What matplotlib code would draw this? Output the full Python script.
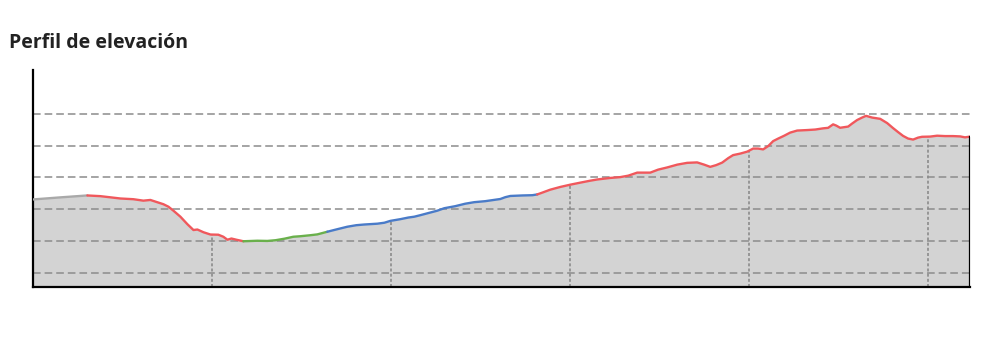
import numpy as np
import matplotlib
matplotlib.use("Agg")
import matplotlib.pyplot as plt

# distance along the route (km) and elevation (m)
dist_km = [0.00, 1.54, 3.04, 3.77, 4.50, 4.89, 5.61, 6.17, 6.56, 7.29, 7.57, 7.85,
           8.24, 8.63, 8.97, 9.19, 9.53, 9.92, 10.36, 10.64, 10.87, 11.09, 11.37, 11.76,
           12.54, 13.10, 13.55, 14.05, 14.55, 14.94, 15.50, 15.89, 16.45, 17.01, 17.57, 18.07,
           18.52, 19.25, 19.64, 19.97, 20.53, 20.98, 21.31, 21.65, 22.21, 22.60, 22.99, 23.60,
           24.16, 24.66, 25.28, 26.12, 26.40, 26.68, 27.35, 27.91, 28.18, 28.41, 28.91, 29.47,
           30.03, 30.59, 31.15, 31.54, 32.26, 32.82, 33.27, 33.77, 34.50, 34.94, 35.45, 36.01,
           36.56, 37.12, 37.51, 37.85, 38.18, 38.52, 38.86, 39.13, 39.53, 39.92, 40.25, 40.53,
           40.81, 41.09, 41.37, 41.65, 41.98, 42.32, 42.71, 43.27, 43.72, 44.16, 44.44, 44.72,
           44.89, 45.11, 45.56, 45.78, 46.06, 46.34, 46.56, 46.90, 47.35, 47.74, 48.07, 48.35,
           48.63, 48.91, 49.19, 49.47, 49.69, 50.14, 50.53, 50.98, 51.42, 51.82, 52.09, 52.37]
elev_m = [215.3, 218.6, 221.6, 220.5, 218.1, 216.8, 215.7, 213.4, 214.5, 207.8, 203.9, 197.6,
          188.1, 176.3, 167.1, 167.9, 163.6, 160.0, 159.7, 156.5, 151.8, 153.7, 151.8, 149.4,
          150.2, 149.9, 151.0, 153.4, 156.5, 157.3, 158.9, 160.2, 164.4, 168.4, 172.3, 174.7,
          175.8, 177.1, 178.6, 181.5, 184.2, 186.8, 188.1, 190.5, 194.7, 197.6, 201.5, 204.7,
          208.6, 211.0, 212.6, 216.0, 218.9, 220.8, 221.6, 222.0, 223.2, 225.5, 230.7, 235.0,
          238.6, 241.8, 244.9, 246.8, 249.2, 250.5, 252.8, 257.6, 257.6, 262.3, 265.8, 270.2,
          273.0, 273.7, 270.2, 266.7, 269.4, 273.4, 280.5, 285.2, 287.6, 290.7, 295.5, 295.5,
          294.2, 299.4, 307.3, 311.3, 315.7, 320.7, 323.9, 324.7, 325.5, 327.4, 328.2, 333.7,
          331.8, 328.3, 330.2, 334.9, 340.5, 344.4, 347.1, 344.4, 342.4, 335.7, 327.8, 321.5,
          315.5, 311.3, 309.7, 312.8, 314.1, 314.4, 315.8, 315.2, 315.2, 314.7, 313.2, 314.4]

# colour of each stretch of the route (start km of each stretch)
seg_start_km = [0.00, 3.04, 11.76, 16.45, 28.18]
seg_colors = ["#a9a9a9", "#f0585c", "#6ab04c", "#4a7bc8", "#f0585c"]

grid_elev = [100, 150, 200, 250, 300, 350]
marker_km = [10, 20, 30, 40, 50]

dist = np.array(dist_km)
elev = np.array(elev_m)

fig = plt.figure(figsize=(9.9, 3.37), dpi=100)
ax = fig.add_axes([0.0333, 0.1484, 0.9465, 0.6439])

ymin, ymax = 77.3, 419.4
ax.set_xlim(0, dist[-1])
ax.set_ylim(ymin, ymax)

ax.fill_between(dist, ymin, elev, color="#d3d3d3", lw=0, zorder=1)

# horizontal dashed grid
for g in grid_elev:
    ax.plot([0, dist[-1]], [g, g], color="#8c8c8c", lw=1.1,
            linestyle=(0, (5, 2.6)), zorder=2)

# km markers only under the profile
for d in marker_km:
    top = np.interp(d, dist, elev)
    ax.plot([d, d], [ymin, top], color="#8c8c8c", lw=1.2,
            linestyle=(0, (1.8, 1.3)), zorder=2)

# coloured profile line
ends = seg_start_km[1:] + [dist[-1]]
for start, end, c in zip(seg_start_km, ends, seg_colors):
    m = (dist >= start - 1e-9) & (dist <= end + 1e-9)
    ax.plot(dist[m], elev[m], color=c, lw=1.7, zorder=3, solid_capstyle="round")

# closing edge on the right
ax.plot([dist[-1], dist[-1]], [ymin, elev[-1]], color="black", lw=1.6, zorder=4)

for s in ["top", "right"]:
    ax.spines[s].set_visible(False)
ax.spines["left"].set_linewidth(1.6)
ax.spines["bottom"].set_linewidth(1.6)
ax.set_xticks([])
ax.set_yticks([])

fig.text(0.009, 0.857, "Perfil de elevación", fontsize=14, fontweight="bold",
         family="Open Sans", color="#222222", va="baseline", ha="left")

fig.savefig("out.png", dpi=100)
